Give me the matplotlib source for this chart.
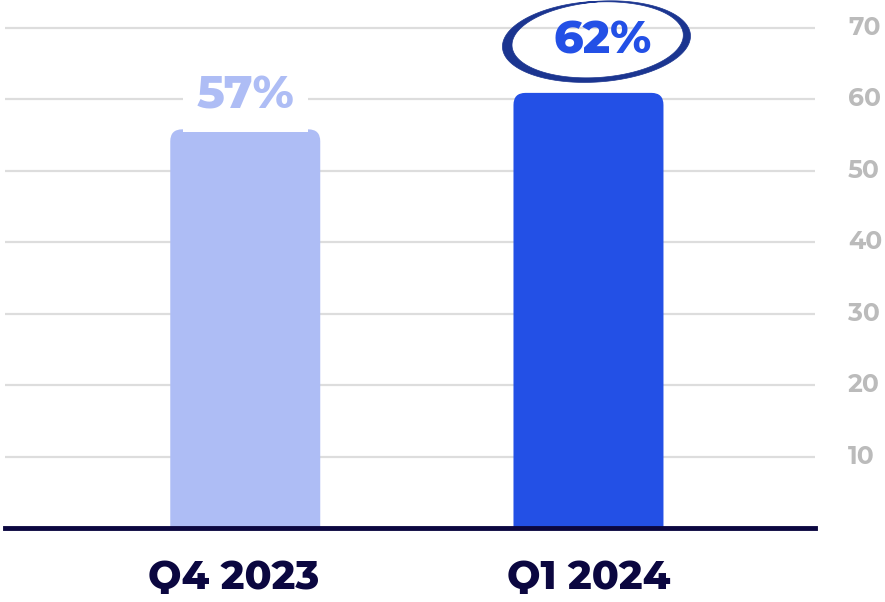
import numpy as np
import matplotlib.pyplot as plt
from matplotlib.patches import FancyBboxPatch, Polygon
from matplotlib.transforms import ScaledTranslation

categories = ["Q4 2023", "Q1 2024"]
values = [55.8, 60.9]
labels = ["57%", "62%"]
yticks = [10, 20, 30, 40, 50, 60, 70]

light = "#aebdf5"
blue = "#2350e6"
navy = "#0b0740"
ring = "#1b3590"
grid = "#dddddd"
tick_gray = "#bbbbbb"

plt.rcParams["font.family"] = ["Montserrat Alternates", "Lato", "DejaVu Sans"]

fig = plt.figure(figsize=(8.85, 6.02), dpi=100)
ax = fig.add_axes([5 / 885, 74 / 602, 810 / 885, 528 / 602])
ax.set_xlim(-0.70, 1.66)
ax.set_ylim(0, 73.9)

# gridlines and baseline
for y in yticks:
    ax.axhline(y, color=grid, lw=1.6, zorder=0)
ax.axhline(0, color=navy, lw=3.5, zorder=5, clip_on=False)

# rounded bars (bottom corners hidden below the axis)
w = 0.437
colors = [light, blue]
for i, v in enumerate(values):
    p = FancyBboxPatch((i - w / 2, -5), w, v + 5,
                       boxstyle="round,pad=0,rounding_size=0.035",
                       mutation_aspect=48, fc=colors[i], ec="none", zorder=2)
    ax.add_patch(p)

# value labels
ax.text(0, 60.4, labels[0], ha="center", va="center", fontsize=33,
        fontweight=800, color=light, zorder=3,
        bbox=dict(boxstyle="square,pad=0.3", fc="white", ec="none"))
ax.text(1.04, 68.2, labels[1], ha="center", va="center", fontsize=33,
        fontweight=800, color=blue, zorder=4)

# hand drawn ring around second label
fig.canvas.draw()
x0, y0 = ax.transData.transform((0, 0))
x1, y1 = ax.transData.transform((1, 10))
px_x = x1 - x0
px_y = (y1 - y0) / 10
cx, cy = 1.025, 68.2
a, b, rot = 90, 39, np.deg2rad(4)
t = np.linspace(np.deg2rad(88), np.deg2rad(88 + 372), 400)
s = (t - t[0]) / (t[-1] - t[0])
thick = 0.6 + 7.0 * np.sin(np.pi * s ** 0.75) ** 0.9
rr_out = 1 + thick / 2 / ((a + b) / 2)
rr_in = 1 - thick / 2 / ((a + b) / 2)


def pts(r):
    ex = a * r * np.cos(t)
    ey = b * r * np.sin(t)
    xr = ex * np.cos(rot) - ey * np.sin(rot)
    yr = ex * np.sin(rot) + ey * np.cos(rot)
    return np.column_stack([cx + xr / px_x, cy + yr / px_y])


poly = np.vstack([pts(rr_out), pts(rr_in)[::-1]])
ax.add_patch(Polygon(poly, closed=True, fc=ring, ec=ring, lw=0.5,
                     zorder=4, clip_on=False))

# axes styling
ax.set_xticks([0, 1])
ax.set_xticklabels(categories, fontsize=28.5, fontweight=800, color=navy)
ax.tick_params(axis="x", length=0, pad=22)
# nudge the first category label a little left, as in the original
lab0 = ax.get_xticklabels()[0]
lab0.set_transform(lab0.get_transform() +
                   ScaledTranslation(-0.12, 0, fig.dpi_scale_trans))
ax.set_yticks([])
ytr = ax.get_yaxis_transform()
for v in yticks:
    ax.text(1 + 33 / 810, v, str(v), transform=ytr, ha="left", va="center",
            fontsize=18, fontweight=700, color=tick_gray)
for sp in ax.spines.values():
    sp.set_visible(False)

fig.savefig("out.png", dpi=100, facecolor="white")
